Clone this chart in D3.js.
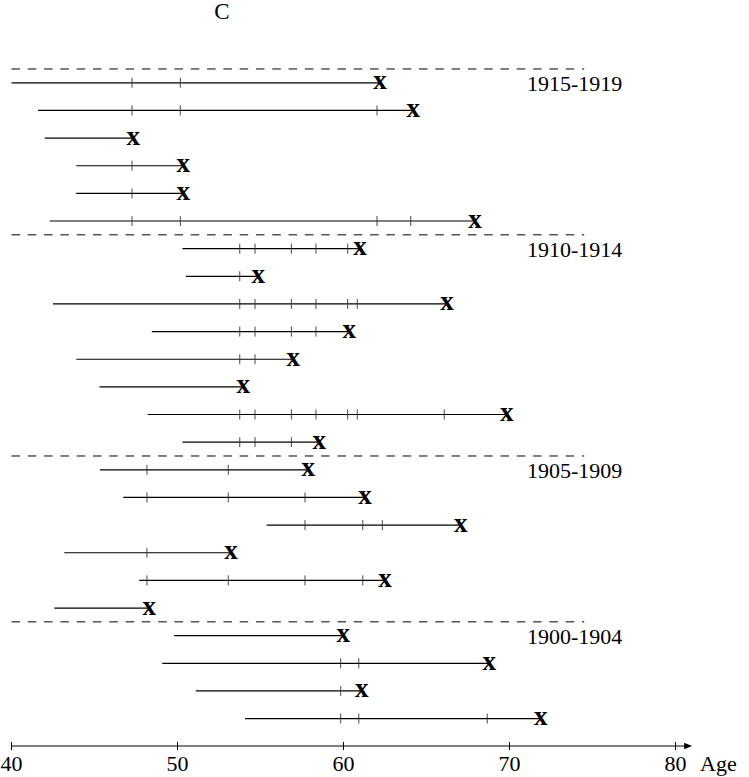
<!DOCTYPE html>
<html>
<head>
<meta charset="utf-8">
<script src="https://cdn.jsdelivr.net/npm/d3@7"></script>
<style>
  html, body { margin: 0; padding: 0; background: #fff; }
  svg { display: block; }
</style>
</head>
<body>
<svg id="chart" width="749" height="777"></svg>
<script>
// ---- data ----
const title = "C";
const axisLabel = "Age";
const tickValues = [40, 50, 60, 70, 80];
const groupLabels = ["1915-1919", "1910-1914", "1905-1909", "1900-1904"];
const groupFirstRow = [0, 6, 14, 20];
const startAges = [40.0, 41.6, 42.0, 43.9, 43.9, 42.3,
                   50.3, 50.5, 42.5, 48.45, 43.9, 45.3, 48.2, 50.3,
                   45.33, 46.73, 55.37, 43.18, 47.7, 42.58,
                   49.8, 49.08, 51.1, 54.07];
const endAges = [62.2, 64.2, 47.34, 50.35, 50.35, 67.92,
                 61.0, 54.87, 66.23, 60.35, 56.98, 53.96, 69.83, 58.54,
                 57.88, 61.3, 67.06, 53.22, 62.5, 48.3,
                 59.99, 68.78, 61.1, 71.88];
const eventAges = [
  [47.26, 50.17],
  [47.26, 50.17, 62.02],
  [],
  [47.26],
  [47.26],
  [47.26, 50.17, 62.02, 64.05],
  [53.75, 54.67, 56.86, 58.34, 60.25],
  [53.75],
  [53.75, 54.67, 56.86, 58.34, 60.25, 60.83],
  [53.75, 54.67, 56.86, 58.34],
  [53.75, 54.67],
  [],
  [53.75, 54.67, 56.86, 58.34, 60.25, 60.83, 66.07],
  [53.75, 54.67, 56.86],
  [48.16, 53.06],
  [48.16, 53.06, 57.68],
  [57.68, 61.16, 62.34],
  [48.16],
  [48.16, 53.06, 57.68, 61.16],
  [],
  [],
  [59.83, 60.92],
  [59.83],
  [59.83, 60.92, 68.66]
];
const dividerEnd = 74.5;
const axisMax = 81;

// ---- drawing ----
const FONT = "'Liberation Serif', 'DejaVu Serif', serif";
const svg = d3.select("#chart");
const x = d3.scaleLinear().domain([40, 80]).range([11.5, 675.5]);
const nRows = startAges.length;
const y = d3.scaleLinear().domain([0, nRows - 1]).range([82.8, 718.6]);
const step = y(1) - y(0);

function txt(sel) {
  return sel.attr("font-family", FONT).attr("fill", "#000");
}

// title
txt(svg.append("text")).attr("x", 222).attr("y", 18.5)
  .attr("text-anchor", "middle").attr("font-size", 23).text(title);

// group dividers and labels
groupFirstRow.forEach((r, i) => {
  const yy = y(r) - step / 2;
  svg.append("line")
    .attr("x1", x(40)).attr("x2", x(dividerEnd))
    .attr("y1", yy).attr("y2", yy)
    .attr("stroke", "#000").attr("stroke-width", 1)
    .attr("stroke-dasharray", "8.5,7.8");
  txt(svg.append("text"))
    .attr("x", 527).attr("y", y(r) + 8.6)
    .attr("font-size", 22).text(groupLabels[i]);
});

// rows
const rows = svg.append("g");
d3.range(nRows).forEach(i => {
  const yy = y(i);
  rows.append("line")
    .attr("x1", x(startAges[i])).attr("x2", x(endAges[i]))
    .attr("y1", yy).attr("y2", yy)
    .attr("stroke", "#000").attr("stroke-width", 1.2);
  rows.selectAll(null).data(eventAges[i]).enter().append("line")
    .attr("x1", d => x(d)).attr("x2", d => x(d))
    .attr("y1", yy - 5).attr("y2", yy + 5)
    .attr("stroke", "#333").attr("stroke-width", 0.9);
  txt(rows.append("text"))
    .attr("x", x(endAges[i])).attr("y", yy + 6.5)
    .attr("text-anchor", "middle")
    .attr("font-size", 27).attr("font-weight", "bold")
    .text("x");
});

// axis
const axisY = 746;
const ax = svg.append("g");
ax.append("line").attr("x1", x(40)).attr("x2", x(axisMax) - 6)
  .attr("y1", axisY).attr("y2", axisY)
  .attr("stroke", "#000").attr("stroke-width", 1);
ax.append("path")
  .attr("d", `M${x(axisMax) - 8},${axisY - 3.2} L${x(axisMax)},${axisY} L${x(axisMax) - 8},${axisY + 3.2} Z`)
  .attr("fill", "#000");
tickValues.forEach(t => {
  ax.append("line").attr("x1", x(t)).attr("x2", x(t))
    .attr("y1", axisY - 4).attr("y2", axisY + 4)
    .attr("stroke", "#000").attr("stroke-width", 1);
  txt(ax.append("text")).attr("x", x(t)).attr("y", 770.5)
    .attr("text-anchor", "middle").attr("font-size", 22).text(t);
});
txt(ax.append("text")).attr("x", 700).attr("y", 770.5)
  .attr("font-size", 22).text(axisLabel);
</script>
</body>
</html>
